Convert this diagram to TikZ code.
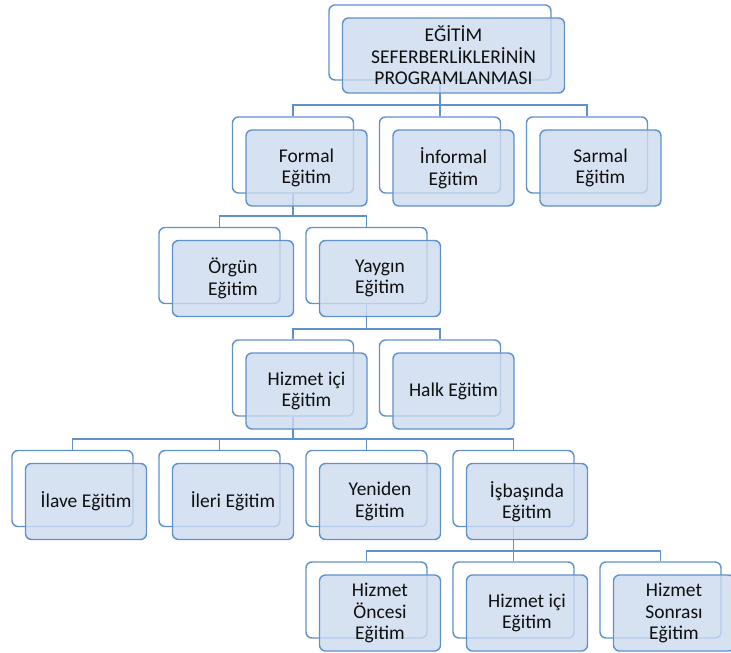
\documentclass[tikz,border=0pt]{standalone}
\usepackage{fontspec}
\setmainfont{Carlito}
\usetikzlibrary{calc}
\definecolor{boxline}{RGB}{95,145,205}
\definecolor{boxfill}{RGB}{204,219,239}
\definecolor{txt}{RGB}{15,15,15}
\begin{document}
\begin{tikzpicture}[x=1bp,y=-1bp,
  backbox/.style={draw=boxline, line width=1.4bp, fill=white, rounded corners=6bp,
    minimum width=121bp, minimum height=76bp, inner sep=0pt},
  frontbox/.style={draw=boxline, line width=1.4bp, fill=boxfill, fill opacity=0.8,
    text opacity=1, rounded corners=6bp, minimum width=121bp, minimum height=76bp,
    inner sep=0pt, align=center, font=\fontsize{19.5bp}{21.5bp}\selectfont, text=txt},
  wide/.style={minimum width=222bp, minimum height=75bp},
  link/.style={draw=boxline, line width=1.3bp}]
\useasboundingbox (0,0) rectangle (731,653);

% back boxes
\node[backbox,wide] (topb) at (440,42.5) {};
\node[backbox] (formalb) at (293,155) {};
\node[backbox] (informalb) at (440,155) {};
\node[backbox] (sarmalb) at (587,155) {};
\node[backbox] (orgunb) at (219.5,265.5) {};
\node[backbox] (yayginb) at (366.5,265.5) {};
\node[backbox] (hizmetb) at (293,378) {};
\node[backbox] (halkb) at (440,378) {};
\node[backbox] (ilaveb) at (72.5,488.5) {};
\node[backbox] (ilerib) at (219.5,488.5) {};
\node[backbox] (yenidenb) at (366.5,488.5) {};
\node[backbox] (isbasindab) at (513.5,488.5) {};
\node[backbox] (oncesib) at (366.5,600) {};
\node[backbox] (hizmeticib) at (513.5,600) {};
\node[backbox] (sonrasib) at (660.5,600) {};

% bar levels
\coordinate (bar1) at (0,105);
\coordinate (bar2) at (0,216);
\coordinate (bar3) at (0,329);
\coordinate (bar4) at (0,439);
\coordinate (bar5) at (0,551);

% connectors
\foreach \c in {formalb,informalb,sarmalb}
  \draw[link] (topb.south) -- (topb.south |- bar1) -| (\c.north);
\foreach \c in {orgunb,yayginb}
  \draw[link] (formalb.south) -- (formalb.south |- bar2) -| (\c.north);
\foreach \c in {hizmetb,halkb}
  \draw[link] (yayginb.south) -- (yayginb.south |- bar3) -| (\c.north);
\foreach \c in {ilaveb,ilerib,yenidenb,isbasindab}
  \draw[link] (hizmetb.south) -- (hizmetb.south |- bar4) -| (\c.north);
\foreach \c in {oncesib,hizmeticib,sonrasib}
  \draw[link] (isbasindab.south) -- (isbasindab.south |- bar5) -| (\c.north);

% front boxes
\node[frontbox,wide] (top) at (453.5,55.5) {EĞİTİM\\SEFERBERLİKLERİNİN\\PROGRAMLANMASI};
\node[frontbox] (formal) at (306.5,168) {Formal\\Eğitim};
\node[frontbox] (informal) at (453.5,168) {İnformal\\Eğitim};
\node[frontbox] (sarmal) at (600.5,168) {Sarmal\\Eğitim};
\node[frontbox] (orgun) at (233,278.5) {Örgün\\Eğitim};
\node[frontbox] (yaygin) at (380,278.5) {Yaygın\\Eğitim};
\node[frontbox] (hizmet) at (306.5,391) {Hizmet içi\\Eğitim};
\node[frontbox] (halk) at (453.5,391) {Halk Eğitim};
\node[frontbox] (ilave) at (86,501.5) {İlave Eğitim};
\node[frontbox] (ileri) at (233,501.5) {İleri Eğitim};
\node[frontbox] (yeniden) at (380,501.5) {Yeniden\\Eğitim};
\node[frontbox] (isbasinda) at (527,501.5) {İşbaşında\\Eğitim};
\node[frontbox] (oncesi) at (380,613) {Hizmet\\Öncesi\\Eğitim};
\node[frontbox] (hizmetici) at (527,613) {Hizmet içi\\Eğitim};
\node[frontbox] (sonrasi) at (674,613) {Hizmet\\Sonrası\\Eğitim};
\end{tikzpicture}
\end{document}
